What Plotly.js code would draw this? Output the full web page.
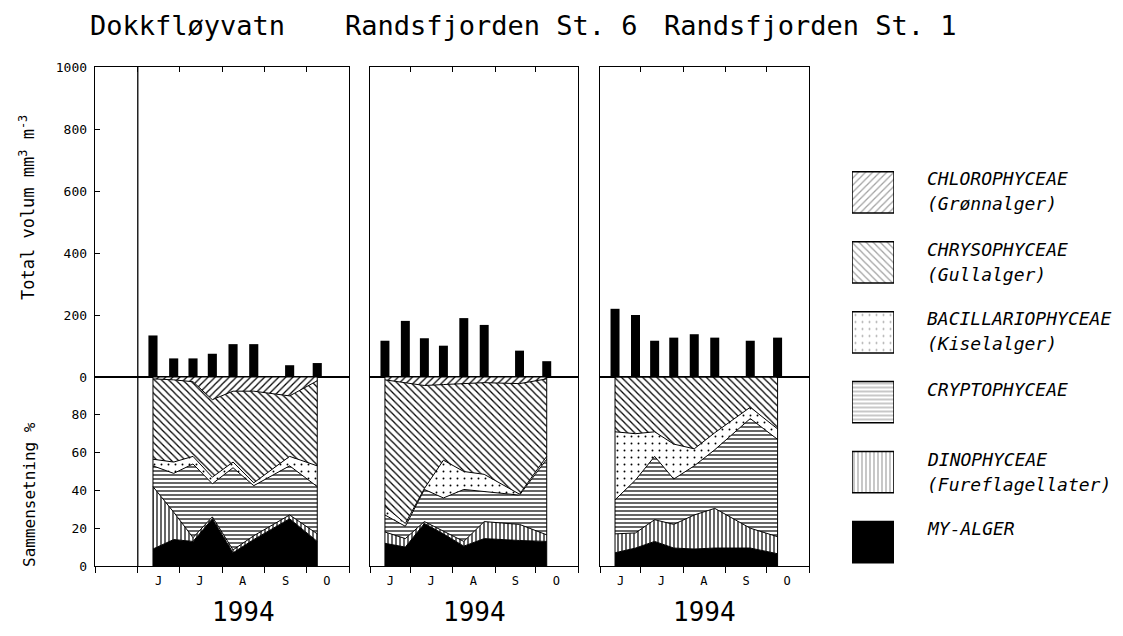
<!DOCTYPE html>
<html><head><meta charset="utf-8">
<script src="https://cdn.plot.ly/plotly-3.0.1.min.js"></script>
<style>html,body{margin:0;padding:0;background:#fff}#chart{width:1123px;height:636px}</style>
</head><body><div id="chart"></div>
<script>
// ---------- data ----------
const stations = ["Dokkfløyvatn", "Randsfjorden St. 6", "Randsfjorden St. 1"];
const yearLabel = "1994";
const sampleDates = ["1994-06-12","1994-06-27","1994-07-11","1994-07-25","1994-08-09","1994-08-24","1994-09-19","1994-10-09"];
const monthStarts = ["1994-05-01","1994-06-01","1994-07-01","1994-08-01","1994-09-01","1994-10-01","1994-11-01"];
const monthMids = ["1994-06-16","1994-07-16","1994-08-16","1994-09-16","1994-10-16"];
const monthLabels = ["J","J","A","S","O"];

// total volume mm3 m-3
const volDokk = [134, 60, 60, 75, 106, 106, 38, 45];
const volSt6  = [117, 181, 125, 101, 190, 168, 85, 51];
const volSt1  = [220, 200, 117, 127, 138, 127, 117, 127];

// composition % (bottom -> top)
const groupNames = ["MY-ALGER","DINOPHYCEAE","CRYPTOPHYCEAE","BACILLARIOPHYCEAE","CHRYSOPHYCEAE","CHLOROPHYCEAE"];
const groupSub   = ["","(Fureflagellater)","","(Kiselalger)","(Gullalger)","(Grønnalger)"];

const dokkMy     = [9, 14, 13, 25, 7, 14, 25, 13];
const dokkDino   = [33, 14.5, 2, 1, 1.5, 2, 2, 4];
const dokkCrypto = [11, 20.5, 39, 17.5, 43.5, 26.5, 26, 25];
const dokkBacil  = [3.5, 6, 4, 3.5, 3, 1.5, 5, 11];
const dokkChryso = [42.5, 43.5, 39.5, 41, 37.5, 48.5, 32, 45];
const dokkChloro = [1, 1.5, 2.5, 12, 7.5, 7.5, 10, 2];

const st6My     = [12, 10, 22.5, 17, 10.5, 14.5, 13.5, 13];
const st6Dino   = [6, 4.5, 1, 1.5, 2.5, 9, 8.5, 3.5];
const st6Crypto = [9, 6.5, 17, 17.5, 27.5, 16, 15.5, 40];
const st6Bacil  = [4.5, 1.5, 0.5, 20, 9.5, 9, 0.5, 1.5];
const st6Chryso = [67, 74.5, 54.5, 40, 46.5, 48.5, 58.5, 41];
const st6Chloro = [1.5, 3, 4.5, 4, 3.5, 3, 3.5, 1];

const st1My     = [7, 9.5, 13, 9.5, 9, 9.5, 9.5, 6.5];
const st1Dino   = [10, 8, 11.5, 12.5, 18, 21, 10.5, 9];
const st1Crypto = [18, 28, 33.5, 24, 26, 31, 58, 51.5];
const st1Bacil  = [36, 24.5, 13, 18.5, 9, 9, 6, 5.5];
const st1Chryso = [29, 30, 29, 35.5, 38, 29.5, 16, 27.5];
const st1Chloro = [0, 0, 0, 0, 0, 0, 0, 0];

// ---------- styling ----------
const W = 1123, H = 636;
const px = p => p / W, py = p => 1 - p / H;
const FONT = "DejaVu Sans Mono";
const patterns = [
  {shape:"", size:6, solidity:0.3},
  {shape:"|", size:4, solidity:0.3},
  {shape:"-", size:4, solidity:0.3},
  {shape:".", size:7, solidity:0.06},
  {shape:"\\", size:5, solidity:0.25},
  {shape:"/", size:5, solidity:0.25}
];
const panels = [
  {l:95, r:349, start:"1994-05-01", vol:volDokk, comp:[dokkMy,dokkDino,dokkCrypto,dokkBacil,dokkChryso,dokkChloro]},
  {l:370, r:578, start:"1994-06-01", vol:volSt6, comp:[st6My,st6Dino,st6Crypto,st6Bacil,st6Chryso,st6Chloro]},
  {l:600, r:809, start:"1994-06-01", vol:volSt1, comp:[st1My,st1Dino,st1Crypto,st1Bacil,st1Chryso,st1Chloro]}
];
const topDom = [py(377), py(67)], botDom = [py(566), py(377)];
const LW = 1.3;

const traces = [];
const layout = {
  width: W, height: H, margin:{l:0,r:0,t:0,b:0},
  paper_bgcolor:"white", plot_bgcolor:"white", showlegend:false,
  font:{family:FONT, color:"black", size:12},
  annotations:[], shapes:[]
};

panels.forEach((p, i) => {
  const xt = 2*i+1, xb = 2*i+2;
  const xtn = xt===1 ? "x" : "x"+xt, ytn = xt===1 ? "y" : "y"+xt;
  const xbn = "x"+xb, ybn = "y"+xb;
  const dom = [px(p.l), px(p.r)];
  const range = [p.start, "1994-11-01"];
  // top bars
  traces.push({type:"bar", x:sampleDates, y:p.vol, xaxis:xtn, yaxis:ytn,
    marker:{color:"black", line:{width:0}}, width:6.6*86400000, hoverinfo:"skip"});
  // stacked areas
  p.comp.forEach((vals, g) => {
    const t = {type:"scatter", mode:"lines", x:sampleDates, y:vals, xaxis:xbn, yaxis:ybn,
      stackgroup:"s"+i, line:{color:"black", width:1}, hoverinfo:"skip"};
    if (g === 0) { t.fillcolor = "black"; }
    else {
      t.fillcolor = "white";
      t.fillpattern = {shape:patterns[g].shape, size:patterns[g].size, solidity:patterns[g].solidity,
        fgcolor:"black", bgcolor:"white", fillmode:"replace"};
    }
    traces.push(t);
  });
  const keyT = xt===1 ? "xaxis" : "xaxis"+xt, keyYT = xt===1 ? "yaxis" : "yaxis"+xt;
  layout[keyT] = {type:"date", domain:dom, range:range, anchor:ytn, side:"top",
    showline:true, linecolor:"black", linewidth:LW, mirror:true,
    ticks:"inside", ticklen:5, tickcolor:"black", tickwidth:1, tickvals:monthStarts,
    showticklabels:false, showgrid:false, zeroline:false, fixedrange:true};
  layout[keyYT] = {domain:topDom, range:[0,1000], anchor:xtn,
    showline:true, linecolor:"black", linewidth:LW, mirror:true,
    ticks: i===0 ? "inside" : "", ticklen:5, tickcolor:"black", tickwidth:1,
    tickvals:[0,200,400,600,800,1000], showticklabels: i===0, ticklabelstandoff:4,
    tickfont:{family:FONT, size:13, color:"black"},
    showgrid:false, zeroline:false, fixedrange:true};
  layout["xaxis"+xb] = {type:"date", domain:dom, range:range, anchor:ybn, side:"bottom",
    showline:true, linecolor:"black", linewidth:LW, mirror:true,
    ticks:"outside", ticklen:0, tickvals:monthMids, ticktext:monthLabels, ticklabelstandoff:3,
    tickfont:{family:FONT, size:12, color:"black"},
    minor:{tickvals:monthStarts, ticks:"outside", ticklen:6, tickcolor:"black", tickwidth:1, showgrid:false},
    showgrid:false, zeroline:false, fixedrange:true};
  layout["yaxis"+xb] = {domain:botDom, range:[0,100], anchor:xbn,
    showline:true, linecolor:"black", linewidth:LW, mirror:true,
    ticks: i===0 ? "inside" : "", ticklen:5, tickcolor:"black", tickwidth:1,
    tickvals:[0,20,40,60,80], showticklabels: i===0, ticklabelstandoff:4,
    tickfont:{family:FONT, size:13, color:"black"},
    showgrid:false, zeroline:false, fixedrange:true};
  // area edges
  [sampleDates[0], sampleDates[sampleDates.length-1]].forEach(d => {
    layout.shapes.push({type:"line", xref:xbn, yref:ybn, x0:d, x1:d, y0:0, y1:100,
      line:{color:"black", width:1}});
  });
  // station title
  layout.annotations.push({text:stations[i], xref:"paper", yref:"paper",
    x:px([88,343,662][i]), y:py(25), xanchor:"left", yanchor:"middle", showarrow:false,
    font:{family:FONT, size:27, color:"black"}});
  // year label
  layout.annotations.push({text:yearLabel, xref:"paper", yref:"paper",
    x:px((p.r + (i===0 ? 137 : p.l))/2), y:py(612), xanchor:"center", yanchor:"middle", showarrow:false,
    font:{family:FONT, size:26, color:"black"}});
});

// June-1 divider in panel 1
layout.shapes.push({type:"line", xref:"x", yref:"paper", x0:"1994-06-01", x1:"1994-06-01",
  y0:botDom[0], y1:topDom[1], line:{color:"black", width:LW}});

// axis titles
layout.annotations.push({text:"Total volum mm<sup>3</sup> m<sup>-3</sup>", xref:"paper", yref:"paper",
  x:px(27), y:py(208), textangle:-90, showarrow:false, xanchor:"center", yanchor:"middle",
  font:{family:FONT, size:17, color:"black"}});
layout.annotations.push({text:"Sammensetning %", xref:"paper", yref:"paper",
  x:px(29), y:py(495), textangle:-90, showarrow:false, xanchor:"center", yanchor:"middle",
  font:{family:FONT, size:16, color:"black"}});

// legend swatches as a bar trace
const legOrder = groupNames.map((n, k) => k).reverse();
traces.push({type:"bar", orientation:"h", x:legOrder.map(() => 1), y:legOrder.map(k => groupNames[k]),
  xaxis:"x7", yaxis:"y7", width:0.59, hoverinfo:"skip",
  marker:{color:legOrder.map(k => k===0 ? "black" : "white"),
    line:{color:"black", width:1.5},
    pattern:{shape:legOrder.map(k => patterns[k].shape), size:legOrder.map(k => patterns[k].size),
      solidity:legOrder.map(k => patterns[k].solidity), fgcolor:"black", fillmode:"overlay"}}});
layout.xaxis7 = {domain:[px(852), px(894)], range:[0,1], visible:false, fixedrange:true};
layout.yaxis7 = {domain:[py(577), py(157.5)], type:"category", autorange:"reversed",
  categoryorder:"array", categoryarray:legOrder.map(k => groupNames[k]), visible:false, fixedrange:true};

const boxTops = [172, 243, 312, 383, 453, 522];
legOrder.forEach((k, j) => {
  layout.annotations.push({text:"<i>"+groupNames[k]+"</i>", xref:"paper", yref:"paper",
    x:px(925), y:py(boxTops[j]+6), xanchor:"left", yanchor:"middle", showarrow:false,
    font:{family:FONT, size:18, color:"black"}});
  if (groupSub[k]) layout.annotations.push({text:"<i>"+groupSub[k]+"</i>", xref:"paper", yref:"paper",
    x:px(925), y:py(boxTops[j]+31), xanchor:"left", yanchor:"middle", showarrow:false,
    font:{family:FONT, size:18, color:"black"}});
});

Plotly.newPlot("chart", traces, layout, {displayModeBar:false, staticPlot:true});
</script></body></html>
